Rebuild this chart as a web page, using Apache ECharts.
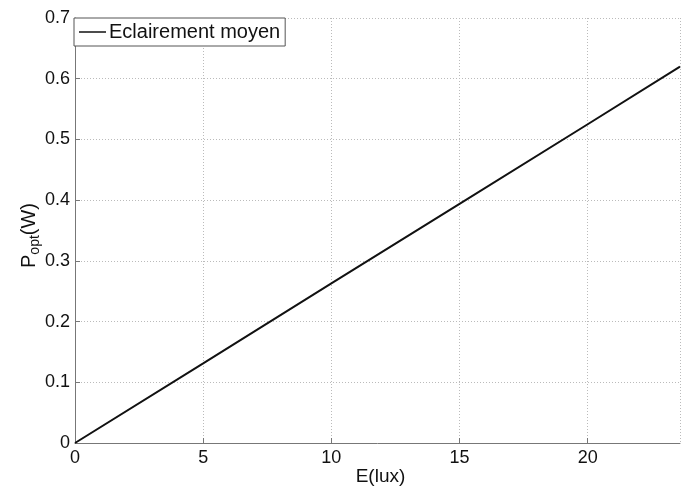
<!DOCTYPE html>
<html><head><meta charset="utf-8">
<script src="https://cdn.jsdelivr.net/npm/echarts@6/dist/echarts.min.js"></script>
<style>html,body{margin:0;padding:0;background:#fff}#c{width:681px;height:492px}</style>
</head><body><div id="c"></div>
<script>
const seriesName = 'Eclairement moyen';
const xValues = [0, 5, 10, 15, 20, 23.6];
const yValues = [0, 0.131, 0.263, 0.394, 0.525, 0.62];
const xTicks = [0, 5, 10, 15, 20];
const yTicks = [0, 0.1, 0.2, 0.3, 0.4, 0.5, 0.6, 0.7];

const chart = echarts.init(document.getElementById('c'));
const font = 'Liberation Sans, Arial, sans-serif';
chart.setOption({
  animation: false,
  backgroundColor: '#fff',
  textStyle: {fontFamily: font},
  grid: {left: 75, right: 1, top: 18, bottom: 49, outerBoundsMode: 'none', containLabel: false},
  legend: {
    left: 74, top: 18, itemWidth: 27, itemHeight: 10, itemGap: 0,
    padding: [4, 5, 4, 5],
    borderColor: '#555', borderWidth: 1, backgroundColor: '#fff',
    textStyle: {fontSize: 20, color: '#111', fontFamily: font, padding: [0,0,0,-2]},
    data: [{name: seriesName, icon: 'path://M0,0 L27,0 L27,1.5 L0,1.5 Z'}]
  },
  xAxis: {
    type: 'value', min: 0, max: 23.6, interval: 5,
    name: 'E(lux)', nameLocation: 'middle', nameGap: 24, nameMoveOverlap: false,
    nameTextStyle: {fontSize: 19, color: '#111', padding: [0, 0, 0, 6]},
    axisLine: {show: true, lineStyle: {color: '#777', width: 1}},
    axisTick: {show: true, inside: true, length: 5, lineStyle: {color: '#777'}},
    axisLabel: {fontSize: 18, color: '#111', margin: 6, showMaxLabel: false},
    splitLine: {show: true, lineStyle: {color: '#bbb', type: [1, 2], width: 1}}
  },
  yAxis: {
    type: 'value', min: 0, max: 0.7, interval: 0.1,
    name: '{m|P}{s|opt}{m|(W)}', nameLocation: 'middle', nameGap: 33, nameRotate: 90, nameMoveOverlap: false,
    nameTextStyle: {padding: [0, 10, 0, 0], rich: {m: {fontSize: 20, color: '#111', fontFamily: font}, s: {fontSize: 14, color: '#111', fontFamily: font, verticalAlign: 'bottom', padding: [12, 0, 0, 0]}}},
    axisLine: {show: true, lineStyle: {color: '#777', width: 1}},
    axisTick: {show: true, inside: true, length: 5, lineStyle: {color: '#777'}},
    axisLabel: {fontSize: 18, color: '#111', margin: 5,
      formatter: v => { const t = yTicks.find(x => Math.abs(x - v) < 1e-9); return t === 0 ? '0' : String(Math.round(v * 10) / 10); }},
    splitLine: {show: true, lineStyle: {color: '#bbb', type: [1, 2], width: 1}}
  },
  series: [{
    name: seriesName, type: 'line', showSymbol: false, symbol: 'none',
    lineStyle: {color: '#111', width: 2},
    itemStyle: {color: '#111'},
    data: xValues.map((x, i) => [x, yValues[i]])
  }]
});
</script></body></html>
